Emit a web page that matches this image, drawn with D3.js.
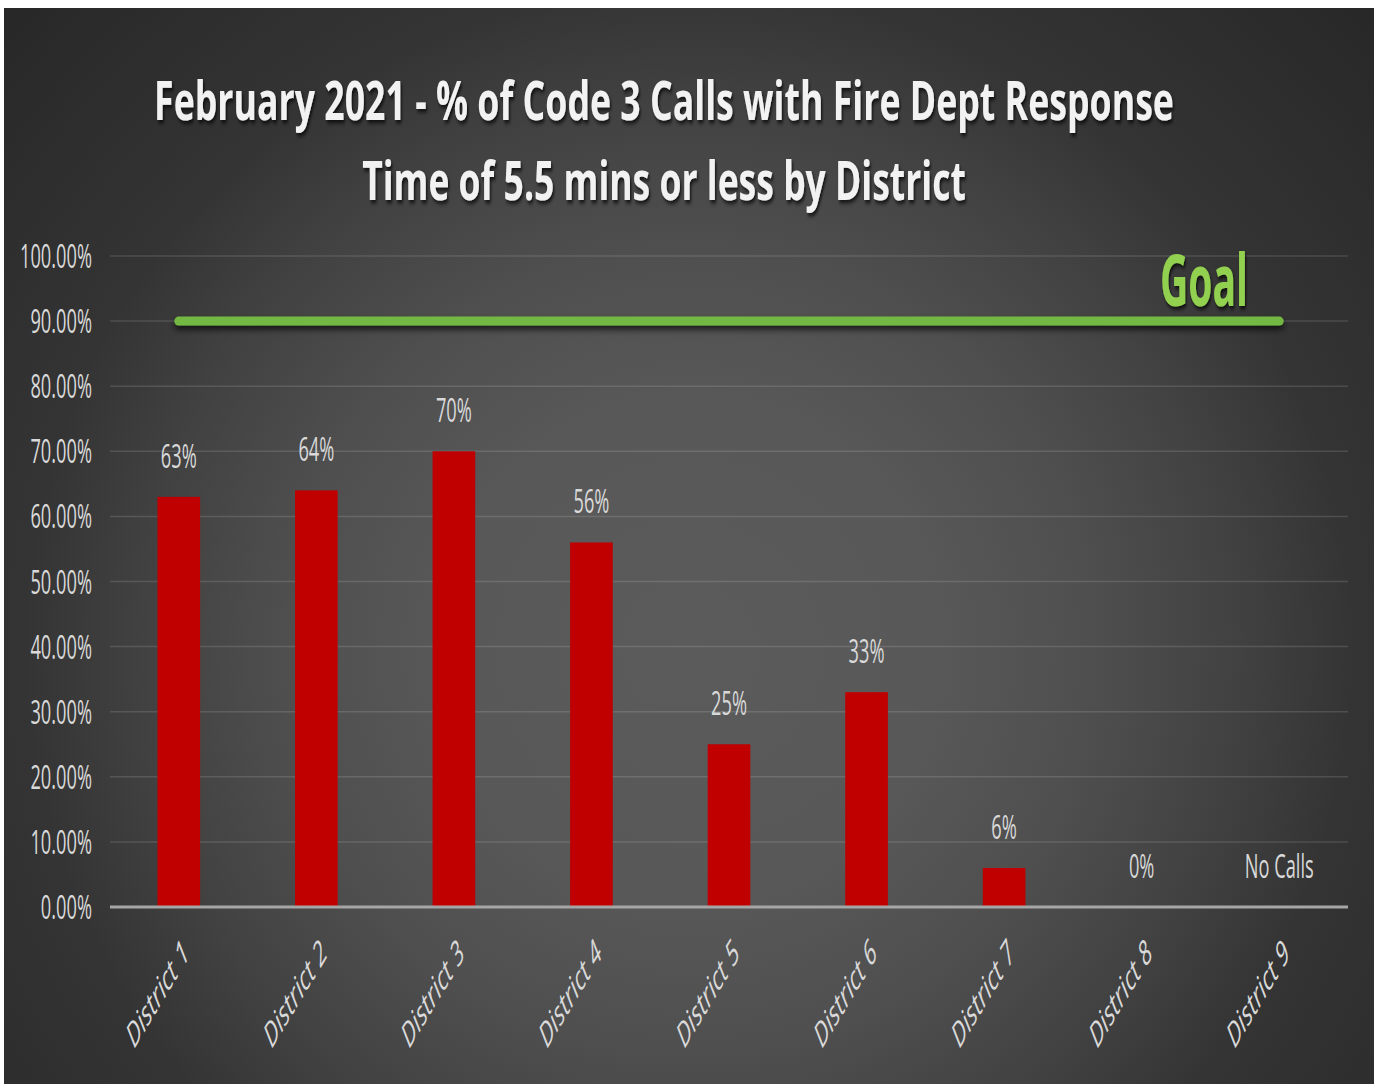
<!DOCTYPE html>
<html>
<head>
<meta charset="utf-8">
<script src="https://cdn.jsdelivr.net/npm/d3@7/dist/d3.min.js"></script>
<style>
  html, body { margin: 0; padding: 0; background: #ffffff; }
  svg { display: block; }
</style>
</head>
<body>
<svg id="chart" width="1376" height="1084"></svg>
<script>
// Share of Code 3 calls answered within 5.5 minutes, by district
const districts = ["District 1", "District 2", "District 3", "District 4", "District 5",
                   "District 6", "District 7", "District 8", "District 9"];
const pctWithinGoal = [0.63, 0.64, 0.70, 0.56, 0.25, 0.33, 0.06, 0.00, null];
const goalLine = [0.90, 0.90, 0.90, 0.90, 0.90, 0.90, 0.90, 0.90, 0.90];
const yTickValues = [0, 0.1, 0.2, 0.3, 0.4, 0.5, 0.6, 0.7, 0.8, 0.9, 1.0];
const titleLines = ["February 2021 - % of Code 3 Calls with Fire Dept Response",
                    "Time of 5.5 mins or less by District"];
const noDataLabel = "No Calls";
const goalLabel = "Goal";

const svg = d3.select("#chart");
const W = 1376, H = 1084;
const plot = { left: 110, right: 1348, top: 256, bottom: 907 };
const textColor = "#d9d9d9";
const squeeze = 0.57;  // narrow lettering

// ---- defs: background gradient and shadows
const defs = svg.append("defs");
const bg = defs.append("radialGradient")
  .attr("id", "bgGrad").attr("gradientUnits", "userSpaceOnUse")
  .attr("cx", 690).attr("cy", 650).attr("r", 950);
[[0, "#5b5b5b"], [0.26, "#585858"], [0.42, "#4f4f4f"], [0.58, "#414141"],
 [0.70, "#343434"], [1, "#272727"]].forEach(([o, c]) =>
  bg.append("stop").attr("offset", o).attr("stop-color", c));

const shadow = defs.append("filter").attr("id", "shadow")
  .attr("x", "-10%").attr("y", "-30%").attr("width", "120%").attr("height", "180%");
shadow.append("feDropShadow").attr("dx", 2).attr("dy", 3)
  .attr("stdDeviation", 2).attr("flood-color", "#000").attr("flood-opacity", 0.75);

// the goal path is perfectly flat, so its filter region is set in user space
const lineShadow = defs.append("filter").attr("id", "lineShadow")
  .attr("filterUnits", "userSpaceOnUse")
  .attr("x", 0).attr("y", 0).attr("width", W).attr("height", H);
lineShadow.append("feDropShadow").attr("dx", 0).attr("dy", 4)
  .attr("stdDeviation", 3).attr("flood-color", "#000").attr("flood-opacity", 0.7);

// ---- chart area background
svg.append("rect").attr("x", 4).attr("y", 8).attr("width", 1370).attr("height", H - 8)
  .attr("fill", "url(#bgGrad)");

// ---- scales
const x = d3.scaleBand().domain(districts)
  .range([plot.left, plot.right]).paddingInner(0.69).paddingOuter(0.345);
const y = d3.scaleLinear().domain([0, 1]).range([plot.bottom, plot.top]);
const cx = d => x(d) + x.bandwidth() / 2;

// ---- gridlines
svg.append("g").selectAll("line").data(yTickValues.filter(v => v > 0)).join("line")
  .attr("x1", plot.left).attr("x2", plot.right)
  .attr("y1", d => y(d)).attr("y2", d => y(d))
  .attr("stroke", "rgba(255,255,255,0.13)").attr("stroke-width", 1.5);

// ---- y axis labels
const yAxis = svg.append("g").attr("transform", `translate(${plot.left},0)`)
  .call(d3.axisLeft(y).tickValues(yTickValues).tickFormat(d3.format(".2%"))
    .tickSize(0).tickPadding(0));
yAxis.select(".domain").remove();
yAxis.selectAll("text")
  .attr("x", 0).attr("dy", "0.36em")
  .attr("transform", `translate(-18,0) scale(${squeeze},1)`)
  .attr("fill", textColor)
  .style("font-family", "'Open Sans', 'Noto Sans', sans-serif")
  .style("font-size", "32px");

// ---- bars
svg.append("g").selectAll("rect")
  .data(districts.map((d, i) => ({ d, v: pctWithinGoal[i] })).filter(o => o.v !== null && o.v > 0))
  .join("rect")
  .attr("x", o => x(o.d)).attr("width", x.bandwidth())
  .attr("y", o => y(o.v)).attr("height", o => y(0) - y(o.v))
  .attr("fill", "#c00000");

// ---- baseline
svg.append("line")
  .attr("x1", plot.left).attr("x2", plot.right)
  .attr("y1", y(0)).attr("y2", y(0))
  .attr("stroke", "#a6a6a6").attr("stroke-width", 3);

// ---- value labels
svg.append("g").selectAll("text")
  .data(districts.map((d, i) => ({ d, v: pctWithinGoal[i] })))
  .join("text")
  .attr("transform", o => `translate(${cx(o.d)},${y(o.v === null ? 0 : o.v) - 29}) scale(${squeeze},1)`)
  .attr("text-anchor", "middle")
  .attr("fill", textColor)
  .style("font-family", "'Open Sans', 'Noto Sans', sans-serif")
  .style("font-size", "32px")
  .text(o => o.v === null ? noDataLabel : d3.format(".0%")(o.v));

// ---- goal line
const goalPath = d3.line().x((v, i) => cx(districts[i])).y(v => y(v));
svg.append("path").datum(goalLine)
  .attr("d", goalPath)
  .attr("fill", "none").attr("stroke", "#72b843")
  .attr("stroke-width", 9).attr("stroke-linecap", "round")
  .attr("filter", "url(#lineShadow)");

const goalText = svg.append("text")
  .attr("text-anchor", "middle")
  .attr("fill", "#92d050").attr("filter", "url(#shadow)")
  .style("font-family", "'Open Sans', 'Noto Sans', sans-serif")
  .style("font-weight", 700).style("font-size", "72px")
  .text(goalLabel);
fitWidth(goalText, 1204, 306, 88);

// ---- x axis labels
svg.append("g").selectAll("text").data(districts).join("text")
  .attr("transform", d => `translate(${cx(d) + 12},${y(0) + 48}) scale(0.6,1) rotate(-45)`)
  .attr("text-anchor", "end")
  .attr("fill", textColor)
  .style("font-family", "'Open Sans', 'Noto Sans', sans-serif")
  .style("font-style", "italic")
  .style("font-size", "34px")
  .text(d => d);

// ---- title (two centred lines, narrowed horizontally to a set width)
const titleSpecs = [{ y: 120, len: 1020 }, { y: 200, len: 604 }];
svg.append("g").selectAll("text").data(titleLines).join("text")
  .attr("text-anchor", "middle")
  .attr("fill", "#f2f2f2").attr("filter", "url(#shadow)")
  .style("font-family", "'Open Sans', 'Noto Sans', sans-serif")
  .style("font-weight", 700).style("font-size", "54px")
  .text(d => d)
  .each(function(d, i) { fitWidth(d3.select(this), 664, titleSpecs[i].y, titleSpecs[i].len); });

// place a centred text at (px, py) and scale it horizontally to the given width
function fitWidth(sel, px, py, width) {
  const natural = sel.node().getComputedTextLength();
  sel.attr("transform", `translate(${px},${py}) scale(${width / natural},1)`);
}
</script>
</body>
</html>
